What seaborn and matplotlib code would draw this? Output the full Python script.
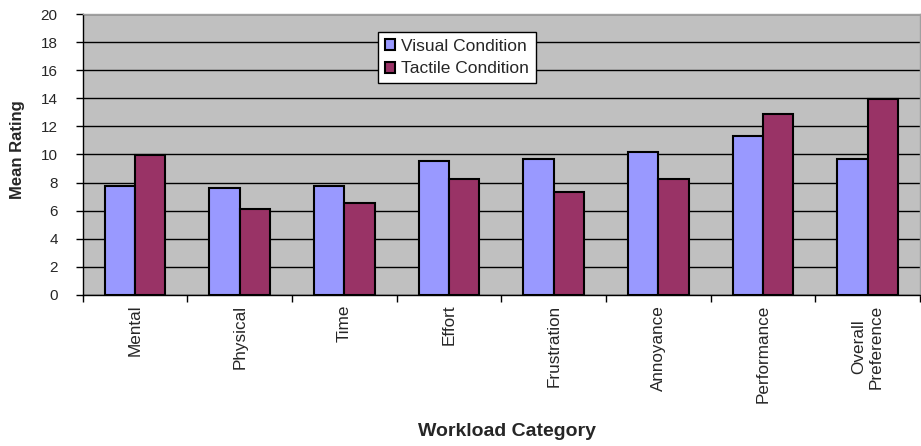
import numpy as np
import pandas as pd
import matplotlib
matplotlib.use("Agg")
import matplotlib.pyplot as plt
import seaborn as sns

categories = ["Mental", "Physical", "Time", "Effort", "Frustration",
              "Annoyance", "Performance", "Overall\nPreference"]
visual = [7.75, 7.65, 7.75, 9.55, 9.65, 10.15, 11.35, 9.65]
tactile = [9.95, 6.1, 6.55, 8.25, 7.3, 8.25, 12.9, 13.95]
series_names = ["Visual Condition", "Tactile Condition"]
y_ticks = [0, 2, 4, 6, 8, 10, 12, 14, 16, 18, 20]

df = pd.DataFrame({
    "Category": categories * 2,
    "Condition": [series_names[0]] * len(categories) + [series_names[1]] * len(categories),
    "Rating": visual + tactile,
})

sns.set_style("white")
plt.rcParams["font.family"] = ["Liberation Sans", "DejaVu Sans"]

fig = plt.figure(figsize=(9.21, 4.46), dpi=100)
ax = fig.add_axes([0.0898, 0.3386, 0.9092, 0.63])

palette = {series_names[0]: "#9999FF", series_names[1]: "#993366"}
sns.barplot(data=df, x="Category", y="Rating", hue="Condition",
            order=categories, hue_order=series_names, palette=palette,
            width=0.58, edgecolor="black", linewidth=1.5, saturation=1,
            ax=ax, errorbar=None)

ax.set_facecolor("#C0C0C0")
ax.set_axisbelow(True)
ax.set_ylim(0, 20)
ax.set_xlim(-0.5, len(categories) - 0.5)
ax.set_yticks(y_ticks)
ax.yaxis.grid(True, color="black", linewidth=1.0)
ax.xaxis.grid(False)
ax.tick_params(axis="y", which="major", direction="out", length=5, width=1,
               color="black", labelsize=11, pad=13, left=True)

# category boundaries as major ticks, labels on minor ticks
ax.set_xticks(np.arange(-0.5, len(categories), 1.0))
ax.set_xticklabels([])
ax.set_xticks(np.arange(len(categories)), minor=True)
ax.set_xticklabels(categories, minor=True, rotation=90, fontsize=12.3,
                   va="top", ha="center", multialignment="center")
ax.tick_params(axis="x", which="major", direction="out", length=5, width=1,
               color="black", bottom=True)
ax.tick_params(axis="x", which="minor", length=0, pad=7)

for s in ["left", "bottom"]:
    ax.spines[s].set_color("black")
    ax.spines[s].set_linewidth(1.0)
for s in ["top", "right"]:
    ax.spines[s].set_color("#A0A0A0")
    ax.spines[s].set_linewidth(1.0)

ax.set_xlabel("")
ax.set_ylabel("")
fig.text(0.0195, 0.665, "Mean Rating", rotation=90, ha="center", va="center",
         fontsize=12, fontweight="bold")
fig.text(0.55, 0.032, "Workload Category", ha="center", va="center",
         fontsize=14, fontweight="bold")

handles, labels = ax.get_legend_handles_labels()
ax.legend(handles, labels, loc="upper center", bbox_to_anchor=(0.447, 0.937),
          frameon=True, fancybox=False, shadow=False, fontsize=12.5,
          handlelength=0.6, handleheight=0.6, handletextpad=0.35,
          borderpad=0.4, labelspacing=0.45, framealpha=1,
          edgecolor="black", facecolor="white", borderaxespad=0)
ax.get_legend().get_frame().set_linewidth(1.0)

fig.savefig("out.png", dpi=100)
